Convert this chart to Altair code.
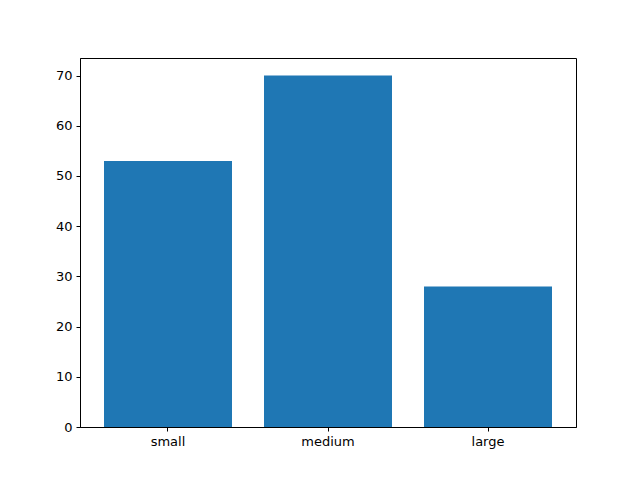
import altair as alt
import pandas as pd

categories = ["small", "medium", "large"]
values = [53, 70, 28]

df = pd.DataFrame({"size": categories, "count": values})

chart = alt.Chart(df).mark_bar(color="#1f77b4").encode(
    x=alt.X("size:N", sort=categories, title=None,
            scale=alt.Scale(paddingInner=0.2, paddingOuter=0.15),
            axis=alt.Axis(labelAngle=0, domain=True, domainColor="black", ticks=True, tickSize=4,
                          tickColor="black", labelColor="black", labelFontSize=13,
                          labelFont="DejaVu Sans", labelPadding=4, grid=False)),
    y=alt.Y("count:Q", title=None,
            scale=alt.Scale(domain=[0, 73.5], nice=False, zero=True),
            axis=alt.Axis(values=[0, 10, 20, 30, 40, 50, 60, 70], domain=True, domainColor="black",
                          tickSize=4, tickColor="black", labelColor="black",
                          labelFontSize=13, labelFont="DejaVu Sans", labelPadding=4,
                          grid=False)),
).properties(
    width=496, height=369,
    autosize=alt.AutoSizeParams(type="none"),
    padding={"left": 72, "top": 50, "right": 56, "bottom": 45},
    background="white",
).configure_view(
    stroke="black", strokeWidth=1
)

chart.save("out.html", embed_options={"renderer": "svg", "actions": False})
